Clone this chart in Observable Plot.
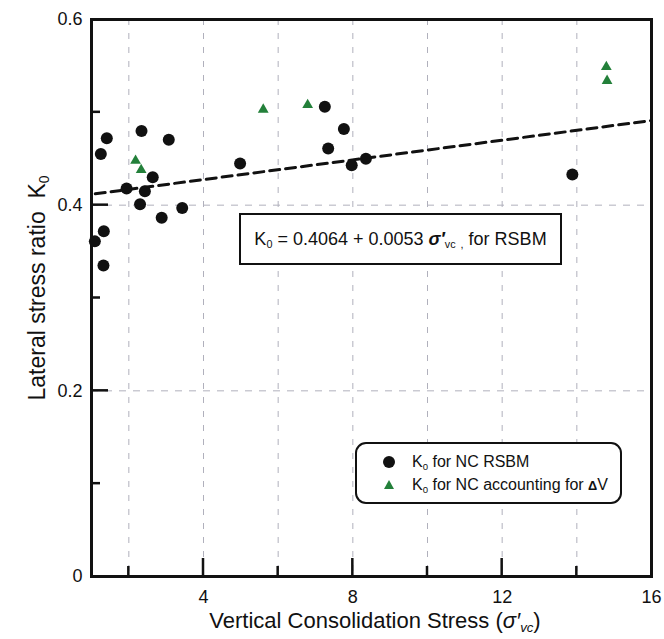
<!DOCTYPE html>
<html><head><meta charset="utf-8">
<script src="https://cdn.jsdelivr.net/npm/d3@7"></script>
<script src="https://cdn.jsdelivr.net/npm/@observablehq/plot@0.6"></script>
<style>
body{margin:0;background:#fff;font-family:"Liberation Sans",Arial,sans-serif;}
#wrap{position:relative;width:664px;height:639px;overflow:hidden;}
#wrap > svg{position:absolute;left:0;top:0;}
.ov{position:absolute;color:#111;white-space:nowrap;line-height:1;}
sub{font-size:60%;vertical-align:-0.3em;line-height:0;}
</style></head><body><div id="wrap"></div>
<script>
// K0 for NC RSBM (circles)
const circX = [1.41, 1.25, 2.34, 3.07, 2.64, 1.94, 2.43, 2.30, 2.88, 3.43, 1.33, 1.09, 1.32, 4.98, 7.25, 7.76, 7.34, 7.97, 8.35, 13.88];
const circY = [0.472, 0.455, 0.480, 0.4705, 0.430, 0.418, 0.415, 0.401, 0.3865, 0.397, 0.372, 0.361, 0.335, 0.445, 0.506, 0.482, 0.461, 0.443, 0.450, 0.433];
// K0 for NC accounting for dV (triangles)
const triX = [2.18, 2.33, 5.60, 6.79, 14.79, 14.81];
const triY = [0.448, 0.438, 0.503, 0.508, 0.549, 0.534];
// fitted line K0 = 0.4064 + 0.0053 s'vc (end points)
const fitX = [1.1, 16];
const fitY = [0.4122, 0.4912];
// ticks
const xTickLabels = [4, 8, 12, 16];
const xMajorTicks = [4, 8, 12];
const xMinorTicks = [2, 6, 10, 14];
const xGrid = [2, 4, 6, 8, 10, 12, 14];
const yTickLabels = [0, 0.2, 0.4, 0.6];
const yMajorTicks = [0.2, 0.4];
const yMinorTicks = [0.1, 0.3, 0.5];
const yGrid = [0.2, 0.4];

const circles = circX.map((x, i) => ({x, y: circY[i]}));
const triangles = triX.map((x, i) => ({x, y: triY[i]}));
const fit = fitX.map((x, i) => ({x, y: fitY[i]}));

const chart = Plot.plot({
  width: 664, height: 639,
  marginLeft: 91, marginRight: 13, marginTop: 19, marginBottom: 63,
  x: {domain: [1, 16], ticks: xTickLabels, tickSize: 0, tickPadding: 14, label: null},
  y: {domain: [0, 0.6], ticks: yTickLabels, tickSize: 0, tickPadding: 9, label: null,
      tickFormat: d => d === 0 ? "0" : d.toFixed(1)},
  style: {fontSize: "18px", fontFamily: "'Liberation Sans', Arial, sans-serif", color: "#111", background: "transparent"},
  marks: [
    Plot.ruleX(xGrid, {stroke: "#b0b0bc", strokeWidth: 1, strokeDasharray: "6,8"}),
    Plot.ruleY(yGrid, {stroke: "#b0b0bc", strokeWidth: 1, strokeDasharray: "7,7"}),
    Plot.frame({stroke: "#111", strokeWidth: 3}),
    Plot.line(fit, {x: "x", y: "y", stroke: "#111", strokeWidth: 3, strokeDasharray: "10,6"}),
    Plot.dot(circles, {x: "x", y: "y", r: 6, fill: "#111", stroke: "none"}),
    Plot.dot(triangles, {x: "x", y: "y", r: 4, symbol: "triangle", fill: "#23803a", stroke: "none"})
  ]
});
const wrap = document.getElementById("wrap");
wrap.appendChild(chart);

// inward ticks, positioned with Plot's own scales
const sx = chart.scale("x"), sy = chart.scale("y");
const g = d3.select(chart).append("g").attr("fill", "#111");
const x0 = sx.apply(1), y0 = sy.apply(0);
const addX = (vals, len) => vals.forEach(v => g.append("rect")
  .attr("x", sx.apply(v) - 1.25).attr("width", 2.5).attr("y", y0 - len).attr("height", len));
const addY = (vals, len) => vals.forEach(v => g.append("rect")
  .attr("x", x0).attr("width", len).attr("y", sy.apply(v) - 1.25).attr("height", 2.5));
addX(xMajorTicks, 18); addX(xMinorTicks, 10);
addY(yMajorTicks, 17); addY(yMinorTicks, 9);

function ov(html, style) {
  const d = document.createElement("div");
  d.className = "ov";
  d.innerHTML = html;
  Object.assign(d.style, style);
  wrap.appendChild(d);
  return d;
}
// Equation box
ov('<span>K<sub>0</sub> = 0.4064 + 0.0053 <b><i>σ′</i></b><sub>vc</sub> <sub>,</sub> for RSBM</span>',
   {left: "239px", top: "213px", width: "319px", height: "48px", background: "#fff",
    border: "2.5px solid #111", boxSizing: "content-box", fontSize: "18px",
    display: "flex", alignItems: "center", justifyContent: "center"});
// Legend box
ov('<div style="display:flex;align-items:center;height:23px"><svg width="16" height="16" style="margin-left:24px;margin-right:15px;flex:none"><circle cx="8" cy="8" r="6" fill="#111"/></svg><span>K<sub>0</sub> for NC RSBM</span></div>' +
   '<div style="display:flex;align-items:center;height:23px"><svg width="16" height="16" style="margin-left:24px;margin-right:15px;flex:none"><path d="M8,3 L13,12 L3,12 Z" fill="#23803a"/></svg><span>K<sub>0</sub> for NC accounting for <b style="font-size:80%">Δ</b>V</span></div>',
   {left: "355px", top: "442px", width: "263px", height: "58px", background: "#fff",
    border: "2.5px solid #111", borderRadius: "11px", fontSize: "16px",
    display: "flex", flexDirection: "column", justifyContent: "center"});
// X axis label
ov('Vertical Consolidation Stress (<i>σ′</i><sub><i>vc</i></sub>)',
   {left: "375px", top: "610px", transform: "translateX(-50%)", fontSize: "22px"});
// Y axis label
ov('Lateral stress ratio&nbsp; K<sub>0</sub>',
   {left: "37px", top: "288px", transform: "translate(-50%,-50%) rotate(-90deg)", fontSize: "23px"});
</script>
</body></html>
